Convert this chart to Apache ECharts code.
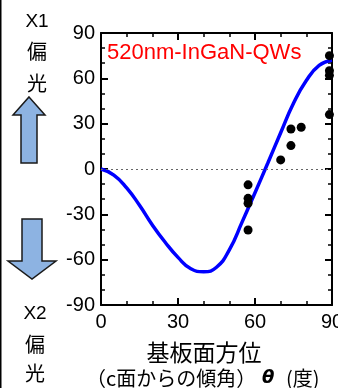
<!DOCTYPE html>
<html><head><meta charset="utf-8">
<script src="https://cdn.jsdelivr.net/npm/echarts@6/dist/echarts.min.js"></script>
<style>html,body{margin:0;padding:0;background:#fff}#c{width:338px;height:388px}</style>
</head><body><div id="c"></div>
<script>
// Fitted curve: angle (deg) and value
const curveTheta = [0,5,10,15,20,25,30,35,40,45,50,55,60,65,70,75,80,85,90];
const curveValue = [0,-4,-12.5,-24,-37,-48.5,-58.5,-66,-68,-65,-53.5,-35,-15.7,4,24,43.5,58.5,68.5,72];
// Measured points
const pointTheta = [89,89,89,89,74,78,74,70,57.3,57.3,57.3,57.3];
const pointValue = [75,65,62,36,26.5,27.6,15.5,6,-10.5,-19.4,-22.7,-40.4];
const xTicks = [0,30,60,90];
const yTicks = [-90,-60,-30,0,30,60,90];

const FONT = '"Liberation Sans", Arial, sans-serif';
const CJK = '"Noto Sans CJK JP", "Noto Sans", sans-serif';

const curve = curveTheta.map((t,i)=>[t,curveValue[i]]);
const pts = pointTheta.map((t,i)=>[t,pointValue[i]]);

function axisBase(show){
  return {
    axisLine:{show:true,onZero:false,lineStyle:{color:'#000',width:2}},
    axisTick:{show:true,inside:true,length:7,lineStyle:{color:'#000',width:2}},
    minorTick:{show:true,splitNumber:3,length:4,lineStyle:{color:'#000',width:1.5}},
    splitLine:{show:false},
    axisLabel:{show:show,color:'#000',fontSize:20,fontFamily:FONT}
  };
}
const xb = Object.assign(axisBase(true),{type:'value',min:xTicks[0],max:xTicks[xTicks.length-1],interval:30,position:'bottom'});
xb.axisLabel.margin=7;
const xt = Object.assign(axisBase(false),{type:'value',min:xTicks[0],max:xTicks[xTicks.length-1],interval:30,position:'top'});
const yl = Object.assign(axisBase(true),{type:'value',min:yTicks[0],max:yTicks[yTicks.length-1],interval:30,position:'left'});
yl.axisLabel.margin=6;
const yr = Object.assign(axisBase(false),{type:'value',min:yTicks[0],max:yTicks[yTicks.length-1],interval:30,position:'right'});

function upArrow(tipX,tipY,headY,botY,hl,hr,sl,sr){
  return [[tipX,tipY],[hr,headY],[sr,headY],[sr,botY],[sl,botY],[sl,headY],[hl,headY]];
}
function downArrow(topY,headY,tipX,tipY,hl,hr,sl,sr){
  return [[sl,topY],[sr,topY],[sr,headY],[hr,headY],[tipX,tipY],[hl,headY],[sl,headY]];
}
const arrowStyle = {fill:'#8DB3E2',stroke:'#1a1a1a',lineWidth:1.5};

const chart = echarts.init(document.getElementById('c'),null,{renderer:'canvas'});
chart.setOption({
  animation:false,
  grid:{left:101,right:6,top:33,bottom:83,containLabel:false,outerBoundsMode:'none'},
  xAxis:[xb,xt],
  yAxis:[yl,yr],
  series:[
    {type:'line',data:curve,smooth:true,symbol:'none',xAxisIndex:0,yAxisIndex:0,
     lineStyle:{color:'#0000FF',width:3.5},
     markLine:{silent:true,symbol:'none',label:{show:false},
       lineStyle:{color:'#666',type:[2,3],width:1},data:[{yAxis:0}]},
     z:3},
    {type:'scatter',data:pts,symbolSize:9,itemStyle:{color:'#000',opacity:1},clip:false,z:4}
  ],
  graphic:[
    {type:'rect',shape:{x:0,y:0,width:1.5,height:388},style:{fill:'#000'}},
    {type:'text',x:107,y:53,style:{text:'520nm-InGaN-QWs',fill:'#FF0000',font:'22px '+FONT,textAlign:'left',textVerticalAlign:'middle'}},
    {type:'text',x:37,y:22,style:{text:'X1',fill:'#000',font:'19px '+FONT,textAlign:'center',textVerticalAlign:'middle'}},
    {type:'text',x:37,y:51,style:{text:'偏',fill:'#000',font:'20px '+CJK,textAlign:'center',textVerticalAlign:'middle'}},
    {type:'text',x:37,y:83,style:{text:'光',fill:'#000',font:'20px '+CJK,textAlign:'center',textVerticalAlign:'middle'}},
    {type:'text',x:35,y:314,style:{text:'X2',fill:'#000',font:'19px '+FONT,textAlign:'center',textVerticalAlign:'middle'}},
    {type:'text',x:35,y:344,style:{text:'偏',fill:'#000',font:'20px '+CJK,textAlign:'center',textVerticalAlign:'middle'}},
    {type:'text',x:35,y:373,style:{text:'光',fill:'#000',font:'20px '+CJK,textAlign:'center',textVerticalAlign:'middle'}},
    {type:'polygon',shape:{points:upArrow(29,97,115,163,13,45,21,37)},style:arrowStyle},
    {type:'polygon',shape:{points:downArrow(219,261,32,279,8,56,22,42)},style:arrowStyle},
    {type:'text',x:204,y:352,style:{text:'基板面方位',fill:'#000',font:'23px '+CJK,textAlign:'center',textVerticalAlign:'middle'}},
    {type:'text',x:86,y:378,style:{text:'（c面からの傾角）',fill:'#000',font:'20px '+CJK,textAlign:'left',textVerticalAlign:'middle'}},
    {type:'text',x:262,y:378,style:{text:'θ',fill:'#000',font:'italic bold 18px "DejaVu Sans", sans-serif',textAlign:'left',textVerticalAlign:'middle'}},
    {type:'text',x:286,y:378,style:{text:'(度)',fill:'#000',font:'20px '+CJK,textAlign:'left',textVerticalAlign:'middle'}}
  ]
});
</script></body></html>
